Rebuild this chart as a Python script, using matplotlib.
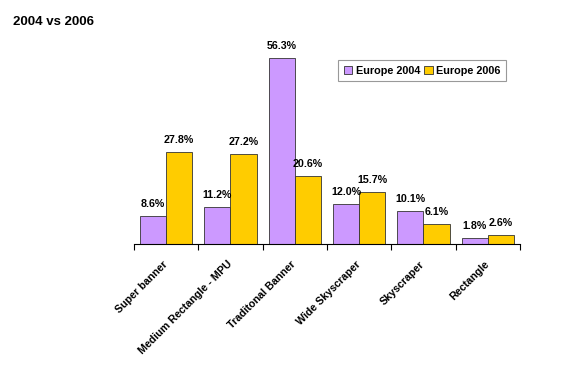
import matplotlib.pyplot as plt
import numpy as np

plt.rcParams['font.family'] = ['Liberation Sans', 'DejaVu Sans']

categories = ['Super banner', 'Medium Rectangle - MPU', 'Traditonal Banner',
              'Wide Skyscraper', 'Skyscraper', 'Rectangle']
europe_2004 = [8.6, 11.2, 56.3, 12.0, 10.1, 1.8]
europe_2006 = [27.8, 27.2, 20.6, 15.7, 6.1, 2.6]

fig = plt.figure(figsize=(5.66, 3.75), dpi=100)
ax = fig.add_axes([0.2367, 0.3493, 0.682, 0.528])

x = np.arange(len(categories))
width = 0.406
bars1 = ax.bar(x - width / 2, europe_2004, width, color='#CC99FF',
               edgecolor='#333333', linewidth=0.6, label='Europe 2004')
bars2 = ax.bar(x + width / 2, europe_2006, width, color='#FFCC00',
               edgecolor='#333333', linewidth=0.6, label='Europe 2006')

for bars in [bars1, bars2]:
    for bar in bars:
        h = bar.get_height()
        ax.annotate(f'{h:.1f}%', (bar.get_x() + bar.get_width() / 2, h),
                    xytext=(0, 5), textcoords='offset points',
                    ha='center', va='bottom', fontsize=7.7, fontweight='bold')

ax.set_xlim(-0.5, len(categories) - 0.5)
ax.set_ylim(0, 60)
ax.set_xticks(np.arange(len(categories) + 1) - 0.5, minor=False)
ax.set_xticklabels([])
ax.tick_params(axis='x', length=4, width=0.8, color='black')
for i, cat in enumerate(categories):
    ax.text(i - 0.06, -4.5, cat, rotation=45, ha='right', va='top',
            rotation_mode='anchor', fontsize=7.7, fontweight='bold')

ax.set_yticks([])
for side in ['left', 'right', 'top']:
    ax.spines[side].set_visible(False)
ax.spines['bottom'].set_linewidth(0.8)

leg = ax.legend(loc='upper left', bbox_to_anchor=(0.515, 0.955), ncol=2,
                frameon=True, fancybox=False, handlelength=0.8,
                handleheight=0.8, handletextpad=0.3, columnspacing=0.4,
                borderpad=0.5, prop={'weight': 'bold', 'size': 7.8})
leg.get_frame().set_edgecolor('#808080')
leg.get_frame().set_linewidth(0.8)

fig.text(13 / 566, 1 - 22 / 375, '2004 vs 2006', fontsize=9.5,
         fontweight='bold', va='center', ha='left')

fig.savefig('out.png', dpi=100)
